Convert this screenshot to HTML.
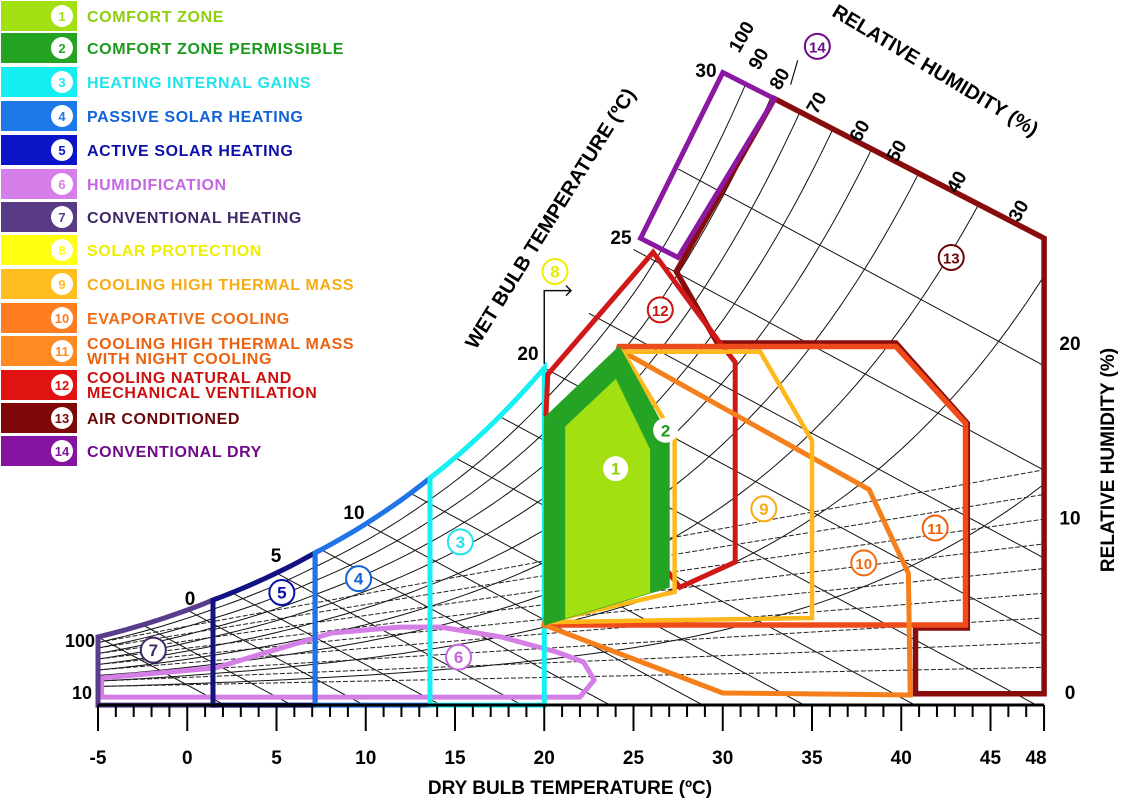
<!DOCTYPE html>
<html><head><meta charset="utf-8"><style>
html,body{margin:0;padding:0;background:#fff;}
svg{display:block;font-family:"Liberation Sans",Arial,sans-serif;font-weight:bold;}
</style></head><body>
<svg id="chart" width="1123" height="804" viewBox="0 0 1123 804" xmlns="http://www.w3.org/2000/svg">
<defs>
<clipPath id="areaClip"><path id="clipPath"/></clipPath>
</defs>
<g id="legend"></g>
<g id="grid" clip-path="url(#areaClip)"></g>
<g id="zones"></g>
<g id="axes"></g>
<g id="labels"></g>
</svg>
<script>
// ---- data ----
const tempTicks = [-5,0,5,10,15,20,25,30,35,40,45,48];
const humidityTicks = [0,10,20];
const satTemps = [-5,1.44,7.16,13.6,20,25.4,30];
const satHumidity = [3.15,5.27,7.97,12.26,18.57,26.0,35.5];
const rhLevels = [0.1,0.2,0.3,0.4,0.5,0.6,0.7,0.8,0.9];
const rhLabels = ["100","90","80","70","60","50","40","30"];
const wetBulbTemps = [-5,-2.5,0,2.5,5,7.5,10,12.5,15,17.5,20,22.5,25,27.5];
const wetBulbLabels = ["0","5","10","20","25","30"];
const leftZoneBounds = [-5,1.44,7.16,13.6,20];
const legendNames = ["COMFORT ZONE","COMFORT ZONE PERMISSIBLE","HEATING INTERNAL GAINS","PASSIVE SOLAR HEATING","ACTIVE SOLAR HEATING","HUMIDIFICATION","CONVENTIONAL HEATING","SOLAR PROTECTION","COOLING HIGH THERMAL MASS","EVAPORATIVE COOLING","COOLING HIGH THERMAL MASS|WITH NIGHT COOLING","COOLING NATURAL AND|MECHANICAL VENTILATION","AIR CONDITIONED","CONVENTIONAL DRY"];
const zone2 = [[20,15.7],[24.2,19.8],[27,14.6],[27,6.0],[20,3.84]];
const zone1 = [[21.2,15.2],[24.0,17.9],[25.9,13.9],[25.9,5.7],[21.2,4.24]];
const zone12 = [[20.1,15.9],[20.2,18.2],[26.1,25.2],[29.7,20.2],[30.7,18.9],[30.7,7.45],[27.6,6.0]];
const zone13 = [[29.7,20.0],[27.4,24.1],[32.9,34.0],[48,26.0],[48,-0.1],[40.8,-0.1],[40.8,3.67],[43.7,3.67],[43.7,15.4],[39.7,20.0]];
const zone14 = [[30,35.5],[25.4,26.0],[27.5,24.9],[32.9,34.0]];
const zone11 = [[20,3.84],[24.2,19.8],[39.7,19.8],[43.6,15.4],[43.6,3.84]];
const zone10 = [[24.4,19.5],[38.2,11.6],[40.4,6.8],[40.5,-0.17],[30.0,-0.06],[20,3.84]];
const zone9 = [[20,4.0],[27.3,5.73],[27.3,14.6],[24.4,19.5],[32.1,19.5],[35.0,14.4],[35.0,4.24]];
const zone6 = [[-4.8,0.8],[1.6,1.38],[4.3,2.23],[8.1,3.38],[11.9,3.72],[14.2,3.72],[17.6,3.15],[20.7,2.29],[22.2,1.72],[22.8,0.69],[22.0,-0.29],[-4.8,-0.29]];
const markerIds = ["1","2","3","4","5","6","7","8","9","10","11","12","13","14"];
const markerT = [24.0,26.8,15.3,9.6,5.3,15.2,-1.9,20.6,32.3,37.9,41.9,26.5,42.8,35.3];
const markerW = [12.8,15.0,8.6,6.5,5.7,2.0,2.4,24.1,10.5,7.4,9.4,21.9,24.9,37.0];

// ---- scales ----
const xS = t => 98 + 17.85*(t+5);
const yS = w => 692 - 17.45*w;
function wsat(t){
  const n = satTemps.length;
  if (t >= satTemps[n-1]) return satHumidity[n-1]*Math.pow(1.4,(t-satTemps[n-1])/5);
  for (let i=0;i<n-1;i++){
    if (t<=satTemps[i+1]){
      const f=(t-satTemps[i])/(satTemps[i+1]-satTemps[i]);
      return satHumidity[i]*Math.pow(satHumidity[i+1]/satHumidity[i],f);
    }
  }
}
const NS="http://www.w3.org/2000/svg";
function mk(tag,attrs,parent){const e=document.createElementNS(NS,tag);for(const k in attrs)e.setAttribute(k,attrs[k]);parent.appendChild(e);return e;}
const pts = arr => arr.map(p=>xS(p[0]).toFixed(1)+","+yS(p[1]).toFixed(1)).join(" ");
const colors = ["#a2e012","#25a325","#14eef0","#1f78e8","#0c14c8","#d67fea","#583a85","#ffff10","#ffbd20","#ff7c20","#ff8a22","#e01212","#7e0808","#8414a0"];
const textColors = ["#8ccf0a","#1b9a1b","#20e4ec","#1262d8","#0a10a8","#c466e2","#3f2868","#eeee00","#f6ac12","#f06c14","#ec6210","#cc1010","#6a0606","#6e0c88"];
const strokeCols = {z3:"#16f0f2",z4:"#1f74e8",z5:"#121282",z7:"#5a3c8c",z6:"#d47fe6",z9:"#ffb81c",z10:"#f57f1a",z11:"#ef4a1a",z12:"#d01818",z13:"#880c0c",z14:"#8a18a0"};

// ---- legend ----
const lg=document.getElementById('legend');
const rowY=[16,48,82,116,150,184,217,250,284,318,351,385,418,451];
legendNames.forEach((name,i)=>{
  const g=mk('g',{},lg);
  
  
  const r=mk('rect',{x:1,y:rowY[i]-15,width:76,height:30,fill:colors[i]},g);
  
  
  mk('circle',{cx:62,cy:rowY[i],r:11,fill:'#fff'},g);
  mk('text',{x:62,y:rowY[i]+5,'text-anchor':'middle','font-size':13,fill:colors[i]},g).textContent=String(i+1);
  const parts=name.split('|');
  parts.forEach((p,j)=>{
    const ty = parts.length>1 ? rowY[i]-2+j*15 : rowY[i]+6;
    const t=mk('text',{x:87,y:ty,'font-size':16,fill:textColors[i],'letter-spacing':'0.6'},g);
    
    
    t.textContent=p;
  });
});

// ---- clip area ----
let cp="M"+xS(-5)+","+yS(-0.75);
for(let t=-5;t<=30.001;t+=0.25) cp+=" L"+xS(t).toFixed(1)+","+yS(wsat(t)).toFixed(1);
cp+=" L"+xS(48)+","+yS(26.0)+" L"+xS(48)+","+yS(-0.75)+" Z";
document.getElementById('clipPath').setAttribute('d',cp);

// ---- grid ----
const grid=document.getElementById('grid');
rhLevels.forEach(rh=>{
  let d="";
  for(let t=-5;t<=48.001;t+=0.5) d+=(d?" L":"M")+xS(t).toFixed(1)+","+yS(rh*wsat(t)).toFixed(1);
  const p=mk('path',{d:d,fill:'none',stroke:'#111','stroke-width':1},grid);
  
  
});
wetBulbTemps.forEach(tw=>{
  const w0=wsat(tw);
  const t1=tw+(w0+0.75)/0.55;
  const l=mk('line',{x1:xS(tw),y1:yS(w0),x2:xS(t1),y2:yS(-0.75),stroke:'#111','stroke-width':1},grid);
  
  
});
for(let k=1;k<=9;k++){
  const frac=k/10;
  const l=mk('line',{x1:xS(-5),y1:yS(frac*3.15),x2:xS(48),y2:yS(frac*3.15+frac*11),stroke:'#222','stroke-width':1,'stroke-dasharray':'5,2'},grid);
  
  
}

// ---- zones ----
const zg=document.getElementById('zones');
function poly(arr,stroke,fill,name,sw){
  const p=mk('polygon',{points:pts(arr),fill:fill||'none',stroke:stroke,'stroke-width':sw||5,'stroke-linejoin':'miter'},zg);
  
  
  return p;
}
(function(){
  const p=mk('path',{d:'',fill:'none',stroke:strokeCols.z6,'stroke-width':5},zg);
  let d="M"+xS(zone6[0][0])+","+yS(zone6[0][1]);
  for(let i=1;i<zone6.length;i++) d+=" L"+xS(zone6[i][0]).toFixed(1)+","+yS(zone6[i][1]).toFixed(1);
  p.setAttribute('d',d+" Z");
  p.setAttribute('stroke-linejoin','round');
  
  
})();
const leftCols=[strokeCols.z7,strokeCols.z5,strokeCols.z4,strokeCols.z3];
const leftNames=['zone-7-conventional-heating','zone-5-active-solar','zone-4-passive-solar','zone-3-internal-gains'];
for(let i=0;i<4;i++){
  const a=leftZoneBounds[i], b=leftZoneBounds[i+1];
  let arr=[[a,-0.75]];
  for(let t=a;t<=b+0.001;t+=(b-a)/12) arr.push([t,wsat(t)]);
  arr.push([b,-0.75]);
  poly(arr,leftCols[i],'none',leftNames[i],5);
}
poly(zone13,strokeCols.z13,'none','zone-13-air-conditioned',5.5);
poly(zone14,strokeCols.z14,'none','zone-14-conventional-dry',5);
poly(zone12,strokeCols.z12,'none','zone-12-ventilation',5);
poly(zone11,strokeCols.z11,'none','zone-11-night-cooling',5.5);
poly(zone10,strokeCols.z10,'none','zone-10-evaporative',5);
poly(zone9,strokeCols.z9,'none','zone-9-thermal-mass',4.5);
poly(zone2,'#25a325','#25a325','zone-2-comfort-permissible',1);
poly(zone1,'#a2e012','#a2e012','zone-1-comfort',1);
(function(){
  const p=mk('path',{d:"M"+xS(20)+","+yS(18.8)+" L"+xS(20)+","+yS(23)+" L"+xS(21.5)+","+yS(23),fill:'none',stroke:'#111','stroke-width':1.5},zg);
  
  
  mk('path',{d:"M"+(xS(21.5)-5)+","+(yS(23)-5)+" L"+xS(21.5)+","+yS(23)+" L"+(xS(21.5)-5)+","+(yS(23)+5),fill:'none',stroke:'#111','stroke-width':1.5},zg);
  const q=mk('path',{d:"M"+xS(33.8)+","+yS(34.8)+" L"+xS(34.2)+","+yS(36.2),fill:'none',stroke:'#111','stroke-width':1.2},zg);
  
  
})();
markerIds.forEach((id,i)=>{
  const g=mk('g',{},zg);
  
  
  const cx=xS(markerT[i]), cy=yS(markerW[i]);
  const filled = (i===0||i===1);
  mk('circle',{cx:cx,cy:cy,r:12.5,fill:'#fff',stroke:filled?'none':(i===7?'#eeee00':textColors[i]),'stroke-width':2},g);
  const tc = i===0?'#8ccf0a':(i===1?'#1b9a1b':(i===7?'#e8e800':textColors[i]));
  mk('text',{x:cx,y:cy+6,'text-anchor':'middle','font-size':id.length>1?15:17,fill:tc},g).textContent=id;
});

// ---- axes ----
const ax=document.getElementById('axes');
const base=mk('line',{x1:xS(-5),y1:705,x2:xS(48),y2:705,stroke:'#000','stroke-width':3},ax);


for(let t=-5;t<=48;t++){
  const major=tempTicks.indexOf(t)>=0;
  const l=mk('line',{x1:xS(t),y1:705,x2:xS(t),y2:major?731:717,stroke:'#000','stroke-width':2},ax);
  
  
}
tempTicks.forEach(t=>{
  const tx=mk('text',{x:xS(t)-(t===48?8:0),y:764,'text-anchor':'middle','font-size':19,fill:'#000'},ax);
  
  
  tx.textContent=String(t);
});
const xt=mk('text',{x:570,y:794,'text-anchor':'middle','font-size':19,fill:'#000'},ax);


xt.textContent="DRY BULB TEMPERATURE (ºC)";
humidityTicks.forEach(w=>{
  const tx=mk('text',{x:1070,y:yS(w)+7,'text-anchor':'middle','font-size':19,fill:'#000'},ax);
  
  
  tx.textContent=String(w);
});
const yt=mk('text',{x:1114,y:460,'text-anchor':'middle','font-size':19,fill:'#000',transform:'rotate(-90 1114 460)'},ax);


yt.textContent="RELATIVE   HUMIDITY (%)";

// ---- labels ----
const lb=document.getElementById('labels');
function lab(txt,x,y,rot,size,name){
  const t=mk('text',{x:x,y:y,'text-anchor':'middle','font-size':size,fill:'#000',transform:'rotate('+rot+' '+x+' '+y+')'},lb);
  
  
  t.textContent=txt;
}
lab("100",80,647,0,18,'rh-left-label');
lab("10",82,699,0,18,'rh-left-label');
const wbPos=[[190,605],[276,562],[354,519],[528,360],[621,244],[706,77]];
wetBulbLabels.forEach((s,i)=>lab(s,wbPos[i][0],wbPos[i][1],0,19,'wet-bulb-label'));
const rhPos=[[747,40],[764,62],[785,82],[822,106],[865,134],[902,154],[962,185],[1024,214]];
rhLabels.forEach((s,i)=>lab(s,rhPos[i][0],rhPos[i][1],-60,19,'rh-curve-label'));
lab("WET BULB TEMPERATURE (ºC)",556,222,-58,20,'wet-bulb-axis-title');
lab("RELATIVE    HUMIDITY (%)",932,76,31,20,'relative-humidity-title');
</script>
</body></html>
